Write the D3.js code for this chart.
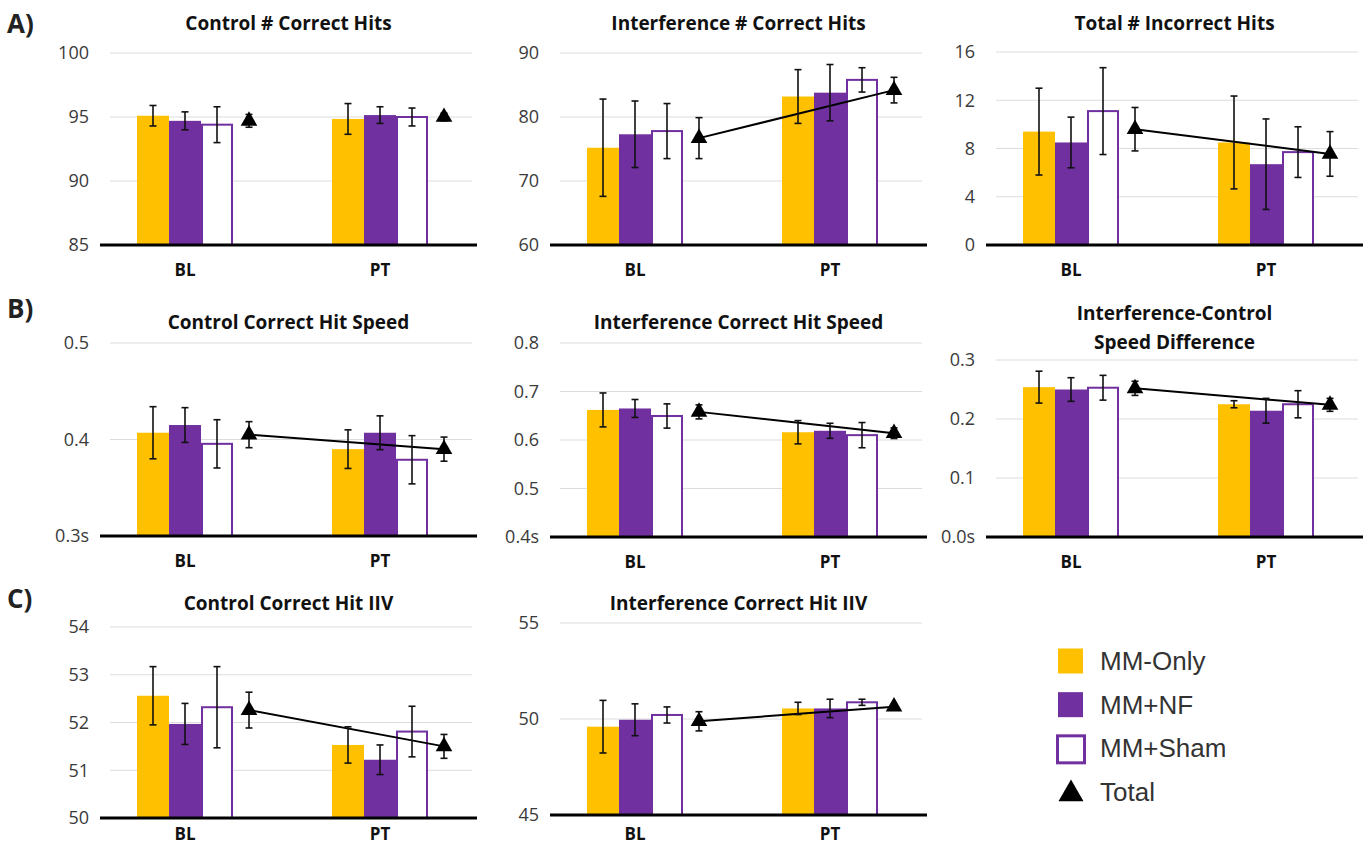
<!DOCTYPE html>
<html>
<head>
<meta charset="utf-8">
<script src="https://cdn.jsdelivr.net/npm/d3@7"></script>
<style>
  body { margin: 0; background: #fff; }
  svg { display: block; }
</style>
</head>
<body>
<svg id="fig" width="1367" height="846"></svg>
<script>
// ---- data ----
var sessions = ["BL", "PT"];
var groups = ["MM-Only", "MM+NF", "MM+Sham"];

var titles = [
  ["Control # Correct Hits"], ["Interference # Correct Hits"], ["Total # Incorrect Hits"],
  ["Control Correct Hit Speed"], ["Interference Correct Hit Speed"], ["Interference-Control", "Speed Difference"],
  ["Control Correct Hit IIV"], ["Interference Correct Hit IIV"]
];
var yDomains = [[85, 100], [60, 90], [0, 16], [0.3, 0.5], [0.4, 0.8], [0, 0.3], [50, 54], [45, 55]];
var tickValues = [
  [85, 90, 95, 100], [60, 70, 80, 90], [0, 4, 8, 12, 16],
  [0.3, 0.4, 0.5], [0.4, 0.5, 0.6, 0.7, 0.8], [0, 0.1, 0.2, 0.3],
  [50, 51, 52, 53, 54], [45, 50, 55]
];
var tickLabels = [
  ["85", "90", "95", "100"], ["60", "70", "80", "90"], ["0", "4", "8", "12", "16"],
  ["0.3s", "0.4", "0.5"], ["0.4s", "0.5", "0.6", "0.7", "0.8"], ["0.0s", "0.1", "0.2", "0.3"],
  ["50", "51", "52", "53", "54"], ["45", "50", "55"]
];

// [BL, PT] per panel
var mmOnlyMean = [[95.1, 94.85], [75.2, 83.2], [9.4, 8.5], [0.407, 0.390], [0.662, 0.616], [0.254, 0.225], [52.56, 51.53], [49.6, 50.55]];
var mmOnlyErr  = [[0.8, 1.2], [7.6, 4.2], [3.6, 3.85], [0.027, 0.020], [0.035, 0.024], [0.027, 0.006], [0.61, 0.38], [1.37, 0.32]];
var mmNfMean   = [[94.7, 95.15], [77.3, 83.8], [8.5, 6.7], [0.415, 0.407], [0.665, 0.619], [0.250, 0.214], [51.97, 51.22], [49.96, 50.55]];
var mmNfErr    = [[0.7, 0.65], [5.2, 4.4], [2.1, 3.75], [0.018, 0.0175], [0.0185, 0.0155], [0.020, 0.021], [0.43, 0.31], [0.83, 0.48]];
var shamMean   = [[94.4, 95.0], [77.8, 85.8], [11.1, 7.7], [0.3955, 0.379], [0.6495, 0.610], [0.253, 0.225], [52.32, 51.81], [50.21, 50.87]];
var shamErr    = [[1.4, 0.7], [4.3, 1.9], [3.6, 2.1], [0.025, 0.025], [0.025, 0.026], [0.021, 0.023], [0.85, 0.53], [0.42, 0.16]];
var totalMean  = [[94.7, 95.0], [76.7, 84.2], [9.6, 7.55], [0.405, 0.390], [0.658, 0.614], [0.252, 0.224], [52.26, 51.5], [49.88, 50.64]];
var totalErr   = [[0.5, 0.3], [3.2, 2.0], [1.8, 1.85], [0.0135, 0.0125], [0.0145, 0.011], [0.012, 0.011], [0.375, 0.25], [0.5, 0.12]];
var totalLine  = [false, true, true, true, true, true, true, true];

// ---- layout ----
var colX = [[100, 477], [550, 927], [986, 1363]];
var panels = [
  {col: 0, top: 53, base: 245, titleY: [23]},
  {col: 1, top: 53, base: 245, titleY: [23]},
  {col: 2, top: 52, base: 245, titleY: [23]},
  {col: 0, top: 343, base: 536, titleY: [322]},
  {col: 1, top: 343, base: 537, titleY: [322]},
  {col: 2, top: 360, base: 537, titleY: [313, 342]},
  {col: 0, top: 627, base: 818, titleY: [603]},
  {col: 1, top: 623, base: 815, titleY: [603]}
];
var bw = 32;
var colors = {"MM-Only": "#FFC000", "MM+NF": "#7030A0", "MM+Sham": "#fff"};
var purple = "#7030A0";

var svg = d3.select("#fig");

// panel letters
var letters = [["A)", 33], ["B)", 318], ["C)", 608]];
svg.selectAll(".letter").data(letters).enter().append("text")
  .attr("class", "letter")
  .attr("x", 7).attr("y", function(d) { return d[1]; })
  .style("font-family", "'Open Sans', sans-serif").style("font-weight", "bold")
  .style("font-size", "26px").style("fill", "#222")
  .text(function(d) { return d[0]; });

panels.forEach(function(p, k) {
  var x0 = colX[p.col][0], x1 = colX[p.col][1];
  var g = svg.append("g");

  var y = d3.scaleLinear().domain(yDomains[k]).range([p.base, p.top]);
  var x = d3.scalePoint().domain(sessions).range([x0 + 85, x1 - 97]);
  var inner = d3.scaleBand().domain(groups.concat(["Total"])).range([-1.5 * bw, 2.5 * bw]);

  // title
  g.selectAll(".title").data(titles[k]).enter().append("text")
    .attr("x", (x0 + x1) / 2)
    .attr("y", function(d, i) { return p.titleY[i]; })
    .attr("dy", "0.35em")
    .attr("text-anchor", "middle")
    .style("font-family", "'Open Sans', sans-serif").style("font-weight", "bold")
    .style("font-size", "19px").style("fill", "#111")
    .text(function(d) { return d; });

  // gridlines
  g.selectAll(".grid").data(tickValues[k].slice(1)).enter().append("line")
    .attr("x1", x0 + 10).attr("x2", x1 - 5)
    .attr("y1", function(d) { return y(d); }).attr("y2", function(d) { return y(d); })
    .attr("stroke", "#dcdcdc").attr("stroke-width", 1);

  // tick labels
  g.selectAll(".tick").data(tickValues[k]).enter().append("text")
    .attr("x", x0 - 11)
    .attr("y", function(d) { return y(d); })
    .attr("dy", "0.35em")
    .attr("text-anchor", "end")
    .style("font-family", "'Open Sans', sans-serif")
    .style("font-size", "18px").style("fill", "#3a3a3a")
    .text(function(d, i) { return tickLabels[k][i]; });

  // bars
  var means = [mmOnlyMean[k], mmNfMean[k], shamMean[k]];
  var errs = [mmOnlyErr[k], mmNfErr[k], shamErr[k]];
  var barData = [];
  groups.forEach(function(grp, gi) {
    sessions.forEach(function(s, si) {
      barData.push({grp: grp, s: s, v: means[gi][si], e: errs[gi][si]});
    });
  });

  g.selectAll(".bar").data(barData).enter().append("rect")
    .attr("x", function(d) {
      var sx = x(d.s) + inner(d.grp);
      return d.grp === "MM+Sham" ? sx + 1 : sx;
    })
    .attr("width", function(d) { return d.grp === "MM+Sham" ? bw - 2 : bw; })
    .attr("y", function(d) { return y(d.v); })
    .attr("height", function(d) { return p.base - y(d.v); })
    .attr("fill", function(d) { return colors[d.grp]; })
    .attr("stroke", function(d) { return d.grp === "MM+Sham" ? purple : "none"; })
    .attr("stroke-width", 2);

  // baseline axis
  g.append("line")
    .attr("x1", x0).attr("x2", x1)
    .attr("y1", p.base).attr("y2", p.base)
    .attr("stroke", "#000").attr("stroke-width", 3);

  // category labels
  g.selectAll(".cat").data(sessions).enter().append("text")
    .attr("x", function(d) { return x(d); })
    .attr("y", Math.min(p.base + 25, 834))
    .attr("dy", "0.35em")
    .attr("text-anchor", "middle")
    .style("font-family", "'Open Sans', sans-serif").style("font-weight", "bold")
    .style("font-size", "17px").style("fill", "#111")
    .text(function(d) { return d; });

  // total series
  var totData = sessions.map(function(s, si) {
    return {s: s, v: totalMean[k][si], e: totalErr[k][si]};
  });
  var tx = function(d) { return x(d.s) + inner("Total") + bw / 2; };

  if (totalLine[k]) {
    g.append("path")
      .datum(totData)
      .attr("d", d3.line().x(tx).y(function(d) { return y(d.v); }))
      .attr("fill", "none").attr("stroke", "#000").attr("stroke-width", 2);
  }

  // error bars (bars + total)
  var ebData = barData.map(function(d) {
    return {cx: x(d.s) + inner(d.grp) + bw / 2, v: d.v, e: d.e};
  }).concat(totData.map(function(d) {
    return {cx: tx(d), v: d.v, e: d.e};
  }));
  var eb = g.selectAll(".eb").data(ebData).enter().append("g")
    .attr("stroke", "#111").attr("stroke-width", 1.6);
  eb.append("line")
    .attr("x1", function(d) { return d.cx; }).attr("x2", function(d) { return d.cx; })
    .attr("y1", function(d) { return y(d.v + d.e); }).attr("y2", function(d) { return y(d.v - d.e); });
  [1, -1].forEach(function(sg) {
    eb.append("line")
      .attr("x1", function(d) { return d.cx - 3.5; }).attr("x2", function(d) { return d.cx + 3.5; })
      .attr("y1", function(d) { return y(d.v + sg * d.e); }).attr("y2", function(d) { return y(d.v + sg * d.e); });
  });

  g.selectAll(".tri").data(totData).enter().append("path")
    .attr("transform", function(d) { return "translate(" + tx(d) + "," + y(d.v) + ")"; })
    .attr("d", d3.symbol().type(d3.symbolTriangle).size(120))
    .attr("fill", "#000");
});

// legend
var legendItems = groups.concat(["Total"]);
var ly = d3.scalePoint().domain(legendItems).range([661, 792]);
var lg = svg.append("g");
legendItems.forEach(function(d) {
  var cy = ly(d);
  if (d === "Total") {
    lg.append("path")
      .attr("transform", "translate(1071," + (cy + 2) + ")")
      .attr("d", d3.symbol().type(d3.symbolTriangle).size(270))
      .attr("fill", "#000");
  } else if (d === "MM+Sham") {
    lg.append("rect")
      .attr("x", 1057.5).attr("y", cy - 12.5).attr("width", 27).attr("height", 27)
      .attr("fill", "#fff").attr("stroke", purple).attr("stroke-width", 3);
  } else {
    lg.append("rect")
      .attr("x", 1058).attr("y", cy - 12.5).attr("width", 25).attr("height", 25)
      .attr("fill", colors[d]);
  }
  lg.append("text")
    .attr("x", 1100).attr("y", cy)
    .attr("dy", "0.35em")
    .style("font-family", "'Liberation Sans', Arial, sans-serif")
    .style("font-size", "26px").style("fill", "#333")
    .text(d);
});
</script>
</body>
</html>
